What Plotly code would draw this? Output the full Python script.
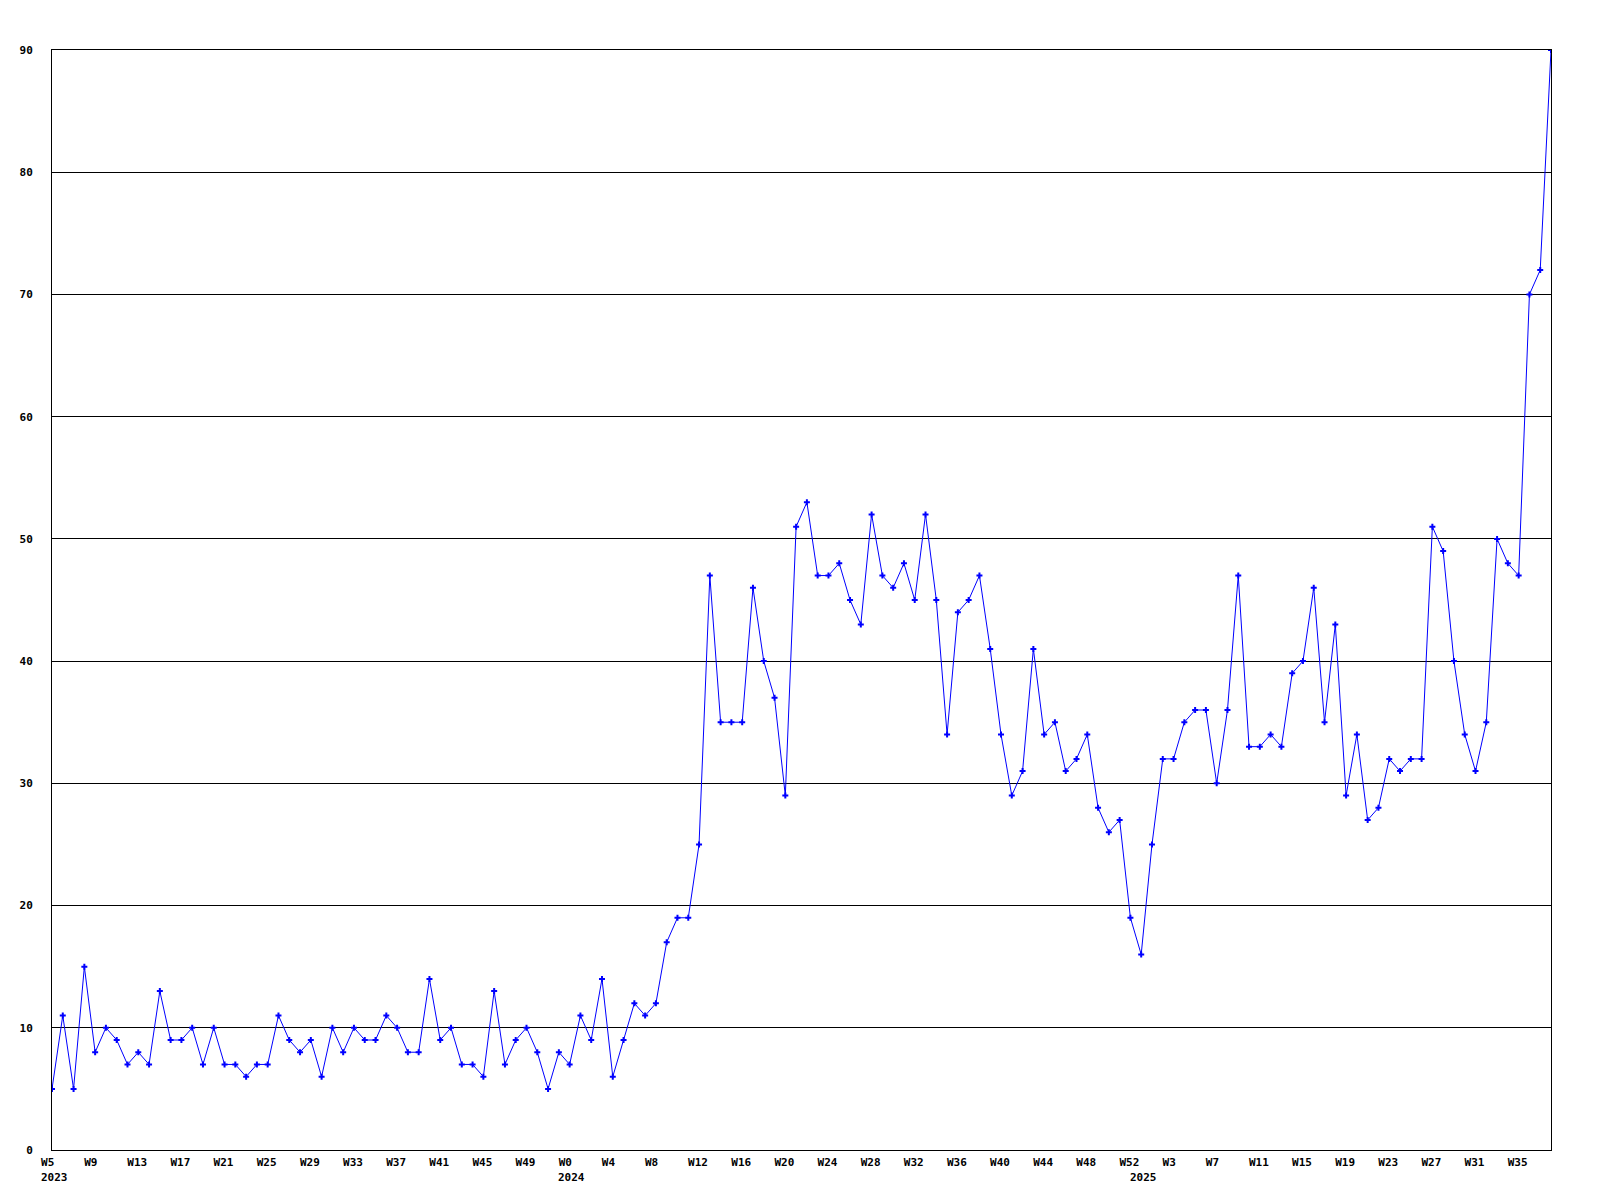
import plotly.graph_objects as go

# ---- data ----
weeks_2023 = list(range(5, 53))   # W5..W52
weeks_2024 = list(range(0, 53))   # W0..W52
weeks_2025 = list(range(0, 39))   # W0..W38

values_2023 = [5, 11, 5, 15, 8, 10, 9, 7, 8, 7, 13, 9, 9, 10, 7, 10, 7, 7, 6, 7,
               7, 11, 9, 8, 9, 6, 10, 8, 10, 9, 9, 11, 10, 8, 8, 14, 9, 10, 7, 7,
               6, 13, 7, 9, 10, 8, 5, 8]
values_2024 = [7, 11, 9, 14, 6, 9, 12, 11, 12, 17, 19, 19, 25, 47, 35, 35, 35, 46, 40, 37,
               29, 51, 53, 47, 47, 48, 45, 43, 52, 47, 46, 48, 45, 52, 45, 34, 44, 45, 47, 41,
               34, 29, 31, 41, 34, 35, 31, 32, 34, 28, 26, 27, 19]
values_2025 = [16, 25, 32, 32, 35, 36, 36, 30, 36, 47, 33, 33, 34, 33, 39, 40, 46, 35, 43, 29,
               34, 27, 28, 32, 31, 32, 32, 51, 49, 40, 34, 31, 35, 50, 48, 47, 70, 72, 90]

y_ticks = [0, 10, 20, 30, 40, 50, 60, 70, 80, 90]
year_labels = ["2023", "2024", "2025"]

# ---- build categories ----
cats, vals = [], []
for yr, wks, vs in [("2023", weeks_2023, values_2023),
                    ("2024", weeks_2024, values_2024),
                    ("2025", weeks_2025, values_2025)]:
    for w, v in zip(wks, vs):
        cats.append(f"{yr}-W{w:02d}")
        vals.append(v)

tickvals = cats[::4]
ticktext = ["W" + str(int(c.split("-W")[1])) for c in tickvals]
year_pos = [f"{y}-W{(weeks_2023[0] if y == '2023' else 0):02d}" for y in year_labels]

FONT = "DejaVu Sans Mono"
NB = "\u00a0"

fig = go.Figure()
fig.add_trace(go.Scatter(
    x=cats, y=vals, mode="lines+markers",
    line=dict(color="#0000ff", width=1),
    marker=dict(symbol="cross", size=5, color="#0000ff", line=dict(width=0)),
    showlegend=False, hoverinfo="x+y",
))

for yl, pos in zip(year_labels, year_pos):
    fig.add_annotation(x=pos, xref="x", y=0, yref="paper", text=f"<b>{yl}</b>",
                       showarrow=False, yanchor="middle", yshift=-27, xshift=2,
                       font=dict(family=FONT, size=11, color="black"))

fig.update_layout(
    width=1600, height=1200,
    margin=dict(l=42, r=57, t=42, b=58),
    paper_bgcolor="white", plot_bgcolor="white",
    font=dict(family=FONT, size=11, color="black"),
)
fig.update_xaxes(
    type="category", range=[0, len(cats) - 1],
    tickmode="array", tickvals=tickvals,
    ticktext=[f"<b>{t.ljust(3, NB)}</b>" for t in ticktext],
    showgrid=False, zeroline=False, ticks="",
    showline=True, linecolor="black", linewidth=1, mirror=True,
    tickangle=0, ticklabelstandoff=2, ticklabelshift=-1,
)
fig.update_yaxes(
    range=[0, 90], tickmode="array", tickvals=y_ticks,
    ticktext=[f"<b>{NB if v < 10 else ''}{v}</b>" for v in y_ticks],
    showgrid=True, gridcolor="black", gridwidth=1, zeroline=False, ticks="",
    showline=True, linecolor="black", linewidth=1, mirror=True,
    ticklabelstandoff=16,
)

fig.write_html("out.html")
